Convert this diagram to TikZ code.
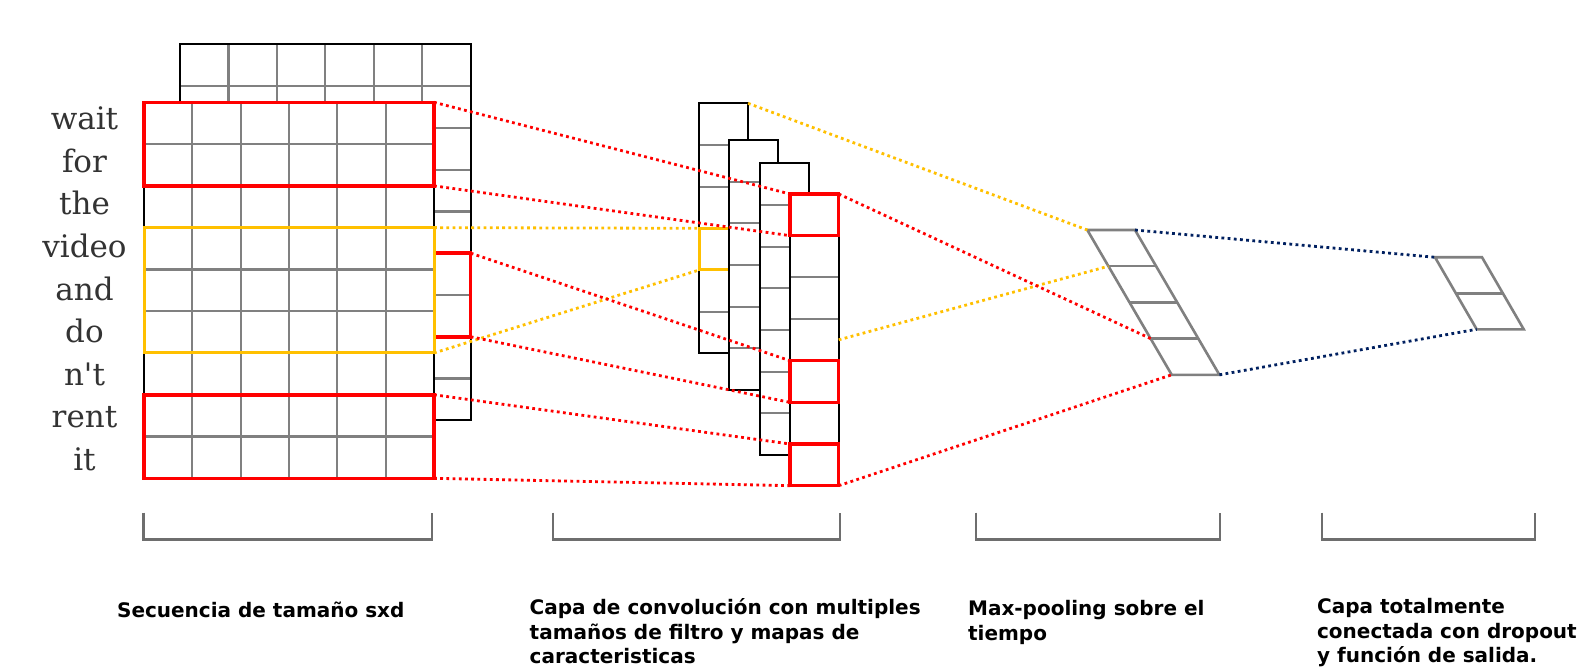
\documentclass[tikz,border=0pt]{standalone}
\usepackage{fontspec}
\setmainfont{DejaVu Sans}
\newfontfamily\wordfont{DejaVu Serif}[Ligatures=TeXOff]
\usetikzlibrary{calc}
\definecolor{hlred}{HTML}{FF0000}
\definecolor{hlyellow}{HTML}{FFC000}
\definecolor{navy}{HTML}{002060}
\definecolor{gridgray}{HTML}{808080}
\definecolor{bracketgray}{HTML}{6E6E6E}
\definecolor{wordgray}{HTML}{333333}
\begin{document}
\begin{tikzpicture}[x=0.5pt,y=-0.5pt,
  gridline/.style={draw=gridgray,line width=1.1pt},
  frame/.style={draw=black,line width=1.1pt},
  sheet/.style={rectangle,draw=black,fill=white,line width=1.1pt,inner sep=0pt,outer sep=0pt,anchor=north west},
  hlbox/.style={rectangle,inner sep=0pt,outer sep=0pt,anchor=north west},
  redbox/.style={hlbox,draw=hlred,line width=1.75pt},
  yelbox/.style={hlbox,draw=hlyellow,line width=1.5pt},
  rdots/.style={draw=hlred,line width=1.4pt,dash pattern=on 1.4pt off 1.7pt},
  ydots/.style={draw=hlyellow,line width=1.4pt,dash pattern=on 1.4pt off 1.7pt},
  bdots/.style={draw=navy,line width=1.4pt,dash pattern=on 1.4pt off 1.7pt},
  pool/.style={draw=gridgray,line width=1.3pt},
  bracket/.style={draw=bracketgray,line width=1.2pt},
  word/.style={font=\wordfont\fontsize{15.5pt}{18pt}\selectfont,text=wordgray,anchor=base,inner sep=0pt},
  caption/.style={font=\fontsize{10pt}{12.25pt}\selectfont\bfseries,align=left,anchor=north west,inner sep=0pt}
]
\useasboundingbox (0,0) rectangle (1590,668);
\fill[white] (0,0) rectangle (1590,668);

% ---------- back embedding matrix ----------
\node[sheet,minimum width=145.35pt,minimum height=188pt] (back) at (180,44.3) {};
\foreach \k in {1,...,5} \draw[gridline] ({180+\k*48.45},44.3) -- ({180+\k*48.45},420.3);
\foreach \k in {1,...,8} \draw[gridline] (180,{44.3+\k*41.78}) -- (470.7,{44.3+\k*41.78});
\draw[frame] (back.north west) rectangle (back.south east);
\node[redbox,minimum width=18.35pt,minimum height=41.78pt] (b1) at (434,253.2) {};

% ---------- front embedding matrix ----------
\node[sheet,minimum width=145pt,minimum height=188pt] (front) at (144,102.3) {};
\foreach \k in {1,...,5} \draw[gridline] ({144+\k*48.333},102.3) -- ({144+\k*48.333},478.3);
\foreach \k in {1,...,8} \draw[gridline] (144,{102.3+\k*41.778}) -- (434,{102.3+\k*41.778});
\draw[frame] (front.north west) rectangle (front.south east);
\node[redbox,minimum width=145pt,minimum height=41.78pt] (f1) at (144,102.3) {};
\node[redbox,minimum width=145pt,minimum height=41.78pt] (f2) at (144,394.76) {};
\node[yelbox,minimum width=145pt,minimum height=62.67pt] (fy) at (144,227.64) {};

% ---------- words ----------
\foreach \w [count=\i from 0] in {wait,for,the,video,and,do,n't,rent,it}
  \node[word] (w\i) at (84.5,{130+\i*42.5}) {\w};

% ---------- feature maps ----------
\node[sheet,minimum width=24.35pt,minimum height=125pt] (map1) at (699.3,103.3) {};
\foreach \k in {1,...,5} \draw[gridline] (699.3,{103.3+\k*41.67}) -- (748,{103.3+\k*41.67});
\draw[frame] (map1.north west) rectangle (map1.south east);
\node[yelbox,minimum width=24.35pt,minimum height=20.83pt] (m1y) at (699.3,228.3) {};

\node[sheet,minimum width=24.35pt,minimum height=125pt] (map2) at (729.3,140) {};
\foreach \k in {1,...,5} \draw[gridline] (729.3,{140+\k*41.67}) -- (778,{140+\k*41.67});
\draw[frame] (map2.north west) rectangle (map2.south east);

\node[sheet,minimum width=24.35pt,minimum height=145.85pt] (map3) at (760,163.3) {};
\foreach \k in {1,...,6} \draw[gridline] (760,{163.3+\k*41.67}) -- (808.7,{163.3+\k*41.67});
\draw[frame] (map3.north west) rectangle (map3.south east);

\node[sheet,minimum width=24.35pt,minimum height=145.85pt] (map4) at (790,194) {};
\foreach \k in {1,...,6} \draw[gridline] (790,{194+\k*41.67}) -- (838.7,{194+\k*41.67});
\draw[frame] (map4.north west) rectangle (map4.south east);
\node[redbox,minimum width=24.35pt,minimum height=20.83pt] (m4r0) at (790,194) {};
\node[redbox,minimum width=24.35pt,minimum height=20.83pt] (m4r4) at (790,360.7) {};
\node[redbox,minimum width=24.35pt,minimum height=20.83pt] (m4r6) at (790,444.0) {};

% ---------- max-pooling vector ----------
\coordinate (mp0l) at (1087.3,230);   \coordinate (mp0r) at (1135.0,230);
\coordinate (mp1l) at (1108.4,266.2); \coordinate (mp1r) at (1156.1,266.2);
\coordinate (mp2l) at (1129.5,302.4); \coordinate (mp2r) at (1177.2,302.4);
\coordinate (mp3l) at (1150.6,338.6); \coordinate (mp3r) at (1198.3,338.6);
\coordinate (mp4l) at (1171.7,374.8); \coordinate (mp4r) at (1219.4,374.8);
\draw[pool,line join=miter] (mp0l) -- (mp0r) -- (mp4r) -- (mp4l) -- cycle;
\draw[pool] (mp1l) -- (mp1r);
\draw[pool] (mp2l) -- (mp2r);
\draw[pool] (mp3l) -- (mp3r);

% ---------- fully connected output ----------
\coordinate (fc0l) at (1435.0,257.3); \coordinate (fc0r) at (1482.0,257.3);
\coordinate (fc1l) at (1455.9,293.3); \coordinate (fc1r) at (1502.9,293.3);
\coordinate (fc2l) at (1476.7,329.3); \coordinate (fc2r) at (1523.7,329.3);
\draw[pool] (fc0l) -- (fc0r) -- (fc2r) -- (fc2l) -- cycle;
\draw[pool] (fc1l) -- (fc1r);

% ---------- dotted connectors ----------
\draw[ydots] (fy.north east) -- (m1y.north west);
\draw[ydots] (fy.south east) -- (m1y.south west);
\draw[ydots] (map1.north east) -- (mp0l);
\draw[ydots] (map4.east) -- (mp1l);

\draw[rdots] (f1.north east) -- (m4r0.north west);
\draw[rdots] (f1.south east) -- (m4r0.south west);
\draw[rdots] (b1.north east) -- (m4r4.north west);
\draw[rdots] (b1.south east) -- (m4r4.south west);
\draw[rdots] (f2.north east) -- (m4r6.north west);
\draw[rdots] (f2.south east) -- (m4r6.south west);
\draw[rdots] (m4r0.north east) -- (mp3l);
\draw[rdots] (m4r6.south east) -- (mp4l);

\draw[bdots] (mp0r) -- (fc0l);
\draw[bdots] (mp4r) -- (fc2l);

% ---------- brackets ----------
\draw[bracket] (143.3,512.7) -- (143.3,539.3) -- (432,539.3) -- (432,512.7);
\draw[bracket] (552.7,512.7) -- (552.7,539.3) -- (840,539.3) -- (840,512.7);
\draw[bracket] (976,512.7) -- (976,539.3) -- (1220,539.3) -- (1220,512.7);
\draw[bracket] (1321.7,512.7) -- (1321.7,539.3) -- (1535,539.3) -- (1535,512.7);

% ---------- captions ----------
\node[caption] (c1) at (116.7,602) {Secuencia de tamaño sxd};
\node[caption] (c2) at (529.3,598.5) {Capa de convolución con multiples\\tamaños de filtro y mapas de\\caracteristicas};
\node[caption] (c3) at (967.7,600) {Max-pooling sobre el\\tiempo};
\node[caption] (c4) at (1316.7,598) {Capa totalmente\\conectada con dropout\\y función de salida.};
\end{tikzpicture}
\end{document}
